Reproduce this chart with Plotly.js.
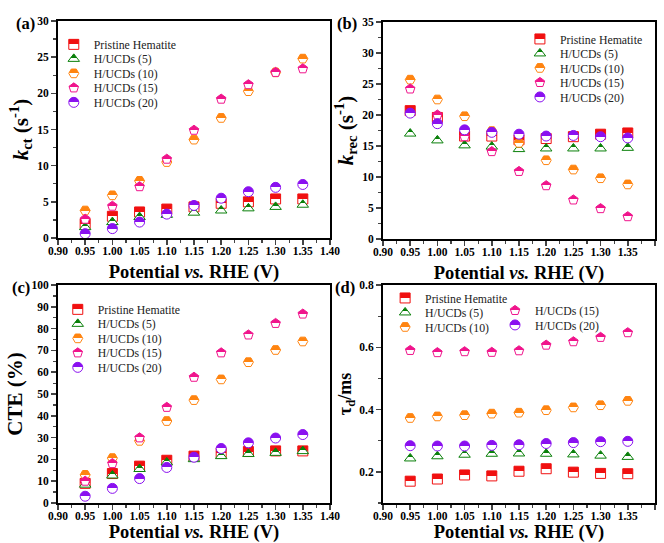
<!DOCTYPE html>
<html>
<head>
<meta charset="utf-8">
<script src="https://cdn.plot.ly/plotly-3.0.1.min.js"></script>
<style>html,body{margin:0;padding:0;background:#fff;}#chart{width:664px;height:543px;}</style>
</head>
<body>
<div id="chart"></div>
<script>
// ---------- data ----------
const potential = [0.95, 1.00, 1.05, 1.10, 1.15, 1.20, 1.25, 1.30, 1.35];
const seriesNames = ['Pristine Hematite', 'H/UCDs (5)', 'H/UCDs (10)', 'H/UCDs (15)', 'H/UCDs (20)'];

// (a) k_ct (s^-1)
const kct_pristine = [2.0, 3.0, 3.6, 4.0, 4.3, 4.8, 5.0, 5.4, 5.4];
const kct_5  = [1.5, 2.2, 2.9, 3.2, 3.5, 3.8, 4.1, 4.3, 4.6];
const kct_10 = [3.8, 5.9, 7.9, 10.5, 13.6, 16.6, 20.3, 22.9, 24.8];
const kct_15 = [2.6, 4.4, 7.1, 10.9, 14.9, 19.2, 21.2, 22.9, 23.4];
const kct_20 = [0.6, 1.3, 2.2, 3.3, 4.5, 5.5, 6.4, 7.0, 7.4];

// (b) k_rec (s^-1)
const krec_pristine = [20.7, 19.6, 16.6, 16.6, 16.0, 16.2, 16.5, 16.9, 17.1];
const krec_5  = [17.0, 15.9, 15.1, 14.9, 14.5, 14.6, 14.6, 14.6, 14.7];
const krec_10 = [25.7, 22.5, 19.8, 17.4, 15.5, 12.7, 11.2, 9.8, 8.8];
const krec_15 = [24.2, 20.0, 16.5, 14.1, 10.9, 8.6, 6.3, 4.9, 3.6];
const krec_20 = [20.3, 18.6, 17.6, 17.2, 16.9, 16.6, 16.7, 16.5, 16.3];

// (c) CTE (%)
const cte_pristine = [9.0, 13.5, 16.9, 19.6, 21.5, 23.0, 23.6, 23.9, 23.9];
const cte_5  = [8.4, 12.6, 15.6, 18.6, 20.1, 21.5, 22.5, 23.0, 23.8];
const cte_10 = [12.9, 20.6, 28.5, 37.6, 47.2, 56.7, 64.6, 70.2, 74.1];
const cte_15 = [10.0, 18.1, 29.9, 43.9, 57.7, 68.9, 77.1, 82.4, 86.7];
const cte_20 = [3.1, 6.7, 11.2, 16.3, 21.0, 25.0, 27.6, 29.8, 31.4];

// (d) tau_d (ms)
const tau_pristine = [0.170, 0.177, 0.190, 0.187, 0.202, 0.210, 0.199, 0.195, 0.194];
const tau_5  = [0.243, 0.250, 0.255, 0.258, 0.259, 0.258, 0.256, 0.252, 0.248];
const tau_10 = [0.373, 0.378, 0.382, 0.387, 0.390, 0.398, 0.407, 0.414, 0.428];
const tau_15 = [0.590, 0.583, 0.586, 0.584, 0.589, 0.607, 0.618, 0.632, 0.647];
const tau_20 = [0.284, 0.283, 0.283, 0.285, 0.287, 0.291, 0.294, 0.297, 0.298];

// ---------- styles ----------
const colors  = ['#f01010', '#0a800a', '#ff8410', '#f0148c', '#8a10f0'];
const symbols = ['square', 'triangle-up', 'hexagon2', 'pentagon', 'circle'];
const FONT = 'Liberation Serif';

const panels = [
  {ys: [kct_pristine, kct_5, kct_10, kct_15, kct_20], xa: 'x', ya: 'y', legends: ['legend','legend','legend','legend','legend']},
  {ys: [krec_pristine, krec_5, krec_10, krec_15, krec_20], xa: 'x2', ya: 'y2', legends: ['legend2','legend2','legend2','legend2','legend2']},
  {ys: [cte_pristine, cte_5, cte_10, cte_15, cte_20], xa: 'x3', ya: 'y3', legends: ['legend3','legend3','legend3','legend3','legend3']},
  {ys: [tau_pristine, tau_5, tau_10, tau_15, tau_20], xa: 'x4', ya: 'y4', legends: ['legend4','legend4','legend4','legend5','legend5']}
];

const traces = [];
panels.forEach(p => {
  p.ys.forEach((y, i) => {
    traces.push({
      type: 'scatter', mode: 'markers',
      x: potential, y: y, name: seriesNames[i],
      xaxis: p.xa, yaxis: p.ya, legend: p.legends[i],
      marker: {symbol: symbols[i], size: 10, color: colors[i],
               line: {color: colors[i], width: 1},
               gradient: {type: 'vertical', color: '#ffffff'}}
    });
  });
});

function xax(domain, anchor) {
  return {
    domain: domain, anchor: anchor, range: [0.90, 1.40], dtick: 0.05, tick0: 0.9,
    tickformat: '.2f', ticks: 'outside', ticklen: 5, tickwidth: 1.5,
    minor: {dtick: 0.025, ticks: 'outside', ticklen: 3, tickwidth: 1.2},
    showline: true, linewidth: 2, linecolor: '#000', mirror: true,
    showgrid: false, zeroline: false,
    tickfont: {family: FONT, size: 11.5, color: '#000', weight: 'bold'},
    title: {text: '<b>Potential <i>vs.</i> RHE (V)</b>', font: {family: FONT, size: 18.5, color: '#000'}, standoff: 5}
  };
}
function yax(domain, anchor, range, dtick, minorDtick, title, tsize, fmt) {
  return {
    domain: domain, anchor: anchor, range: range, dtick: dtick, tick0: 0,
    tickformat: fmt, ticks: 'outside', ticklen: 5, tickwidth: 1.5,
    minor: {dtick: minorDtick, ticks: 'outside', ticklen: 3, tickwidth: 1.2},
    showline: true, linewidth: 2, linecolor: '#000', mirror: true,
    showgrid: false, zeroline: false,
    tickfont: {family: FONT, size: 11.5, color: '#000', weight: 'bold'},
    title: {text: title, font: {family: FONT, size: tsize, color: '#000'}, standoff: 3}
  };
}

const legBase = {
  bgcolor: 'rgba(0,0,0,0)', borderwidth: 0, xanchor: 'left', yanchor: 'top',
  font: {family: FONT, size: 11.8, color: '#222'}, tracegroupgap: 0, itemclick: false
};

const layout = {
  width: 664, height: 543,
  margin: {l: 0, r: 0, t: 0, b: 0},
  paper_bgcolor: '#fff', plot_bgcolor: '#fff',
  showlegend: true,
  xaxis:  xax([0.0873, 0.497], 'y'),
  yaxis:  yax([0.5617, 0.9613], 'x', [0, 30], 5, 2.5, '<b><i>k</i><sub>ct</sub> (s<sup>-1</sup>)</b>', 21, 'd'),
  xaxis2: xax([0.5768, 0.9864], 'y2'),
  yaxis2: yax([0.5599, 0.9595], 'x2', [0, 35], 5, 2.5, '<b><i>k</i><sub>rec</sub> (s<sup>-1</sup>)</b>', 21, 'd'),
  xaxis3: xax([0.0873, 0.497], 'y3'),
  yaxis3: yax([0.0737, 0.4751], 'x3', [0, 100], 10, 5, '<b>CTE (%)</b>', 21, 'd'),
  xaxis4: xax([0.5768, 0.9864], 'y4'),
  yaxis4: yax([0.0737, 0.4751], 'x4', [0.1, 0.8], 0.2, 0.1, '<b>τ<sub>d</sub>/ms</b>', 18, '.1f'),
  legend:  Object.assign({}, legBase, {x: 0.081, y: 0.945}),
  legend2: Object.assign({}, legBase, {x: 0.783, y: 0.955}),
  legend3: Object.assign({}, legBase, {x: 0.087, y: 0.457}),
  legend4: Object.assign({}, legBase, {x: 0.580, y: 0.478}),
  legend5: Object.assign({}, legBase, {x: 0.7455, y: 0.455}),
  annotations: [
    {text: '<b>(a)</b>', x: 25 / 664, y: 1 - 23 / 543},
    {text: '<b>(b)</b>', x: 347 / 664, y: 1 - 23 / 543},
    {text: '<b>(c)</b>', x: 21 / 664, y: 1 - 287 / 543},
    {text: '<b>(d)</b>', x: 345 / 664, y: 1 - 287 / 543}
  ].map(a => Object.assign({xref: 'paper', yref: 'paper', showarrow: false,
      xanchor: 'center', yanchor: 'middle', font: {family: FONT, size: 16.5, color: '#000'}}, a))
};

// make the vertical gradient a sharp half fill (top coloured, bottom white)
function halfFill() {
  document.querySelectorAll('#chart linearGradient').forEach(g => {
    const stops = g.querySelectorAll('stop');
    if (stops.length !== 2) return;
    let col = null;
    stops.forEach(s => {
      const c = (s.getAttribute('stop-color') || '').replace(/\s/g, '').toLowerCase();
      if (c !== '#ffffff' && c !== 'rgb(255,255,255)' && c !== 'white') col = s.getAttribute('stop-color');
    });
    if (!col) return;
    g.setAttribute('x1', '0'); g.setAttribute('y1', '0');
    g.setAttribute('x2', '0'); g.setAttribute('y2', '1');
    stops[0].setAttribute('offset', '0.5'); stops[0].setAttribute('stop-color', col);
    stops[1].setAttribute('offset', '0.5'); stops[1].setAttribute('stop-color', '#ffffff');
  });
}

// tighten legend row spacing to match the compact legend of the original
function tightenLegends() {
  const ratio = 14.5 / 19;
  document.querySelectorAll('#chart .infolayer > g[class^="legend"]').forEach(leg => {
    const items = Array.from(leg.querySelectorAll('g.traces'));
    if (!items.length) return;
    const parse = el => {
      const m = /translate\(\s*([-\d.]+)[ ,]+([-\d.]+)\s*\)/.exec(el.getAttribute('transform') || '');
      return m ? [parseFloat(m[1]), parseFloat(m[2])] : null;
    };
    const p0 = parse(items[0]);
    if (!p0) return;
    items.forEach(it => {
      const p = parse(it);
      if (!p) return;
      it.setAttribute('transform', 'translate(' + p[0] + ',' + (p0[1] + (p[1] - p0[1]) * ratio) + ')');
    });
  });
}

// pull the x tick labels a little closer to the axis, as in the original
function raiseXTickLabels() {
  document.querySelectorAll('#chart g.xaxislayer-above text').forEach(t => {
    t.setAttribute('transform', 'translate(0,-4) ' + (t.getAttribute('transform') || ''));
  });
}

Plotly.newPlot('chart', traces, layout, {staticPlot: true}).then(gd => {
  halfFill();
  tightenLegends();
  raiseXTickLabels();
});
</script>
</body>
</html>
